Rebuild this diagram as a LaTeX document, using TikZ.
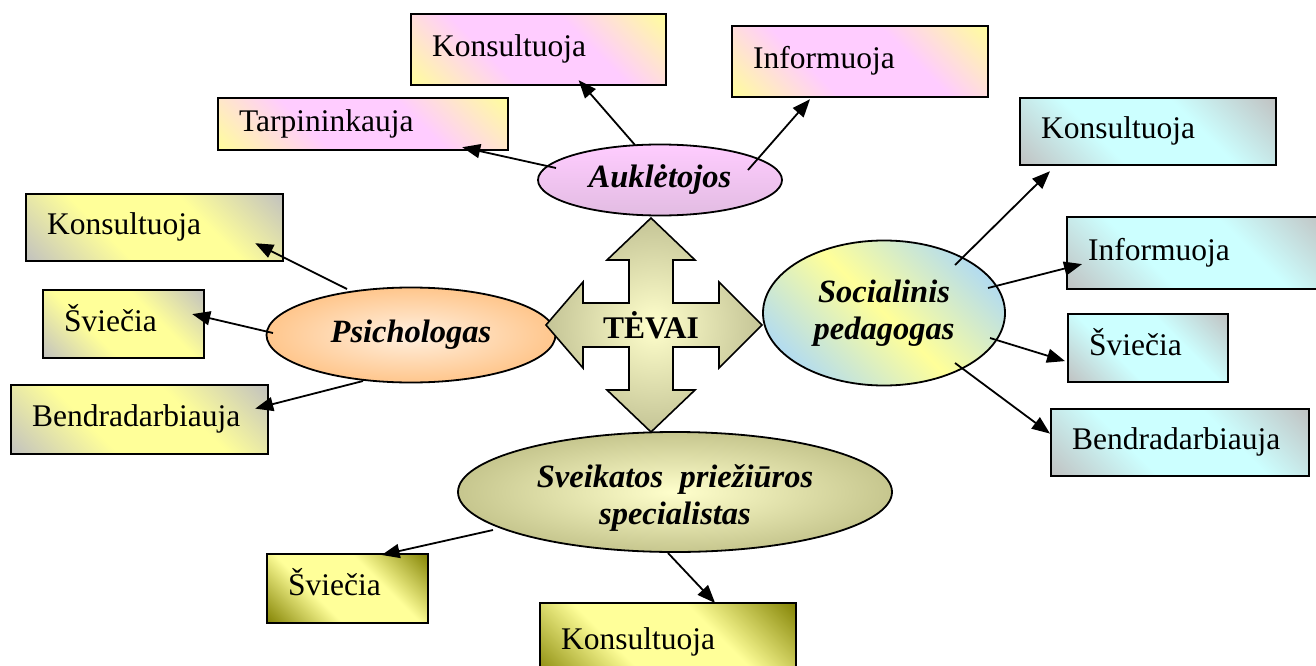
\documentclass[tikz,border=0pt]{standalone}
\usepackage{fontspec}
\setmainfont{Liberation Serif}
\usetikzlibrary{shapes.geometric,arrows.meta}

\definecolor{geltona}{HTML}{FFFF99}
\definecolor{rozine}{HTML}{FFCCFF}
\definecolor{alyvine}{HTML}{E2BCE2}
\definecolor{pilka}{HTML}{C0C0C0}
\definecolor{zydra}{HTML}{CCFFFF}
\definecolor{melsva}{HTML}{B4DCEE}
\definecolor{alyvuoge}{HTML}{808000}
\definecolor{oranzine}{HTML}{FFC68C}
\definecolor{persikine}{HTML}{FFF0E0}
\definecolor{kremine}{HTML}{FFFFCC}
\definecolor{rusva}{HTML}{C6C68E}
\definecolor{smelio}{HTML}{C4C496}
\newcommand{\dydis}{\fontsize{31.5pt}{36pt}\selectfont}
\newcommand{\elipsdydis}{\fontsize{32.5pt}{37pt}\selectfont}

\pgfdeclareverticalshading{auklsesel}{100bp}{color(0bp)=(geltona); color(14bp)=(geltona); color(38bp)=(rozine); color(62bp)=(rozine); color(86bp)=(geltona); color(100bp)=(geltona)}
\pgfdeclareverticalshading{psisesel}{100bp}{color(0bp)=(pilka); color(14bp)=(pilka); color(38bp)=(geltona); color(62bp)=(geltona); color(86bp)=(pilka); color(100bp)=(pilka)}
\pgfdeclareverticalshading{socsesel}{100bp}{color(0bp)=(pilka); color(14bp)=(pilka); color(38bp)=(zydra); color(62bp)=(zydra); color(86bp)=(pilka); color(100bp)=(pilka)}
\pgfdeclareverticalshading{sveisesel}{100bp}{color(0bp)=(alyvuoge); color(14bp)=(alyvuoge); color(38bp)=(geltona); color(62bp)=(geltona); color(86bp)=(alyvuoge); color(100bp)=(alyvuoge)}

\begin{document}
\begin{tikzpicture}[x=1pt,y=-1pt,
    laukas/.style={draw,line width=2.2pt,anchor=north west,inner xsep=21pt,inner ysep=0pt,
        align=left,font=\dydis,text height=22pt,text depth=8pt,shading angle=-45},
    auklaukas/.style={laukas,shading=auklsesel},
    psilaukas/.style={laukas,shading=psisesel},
    soclaukas/.style={laukas,shading=socsesel},
    sveilaukas/.style={laukas,shading=sveisesel},
    elipse/.style={ellipse,draw,line width=1.8pt,inner sep=0pt,align=center,font=\elipsdydis\bfseries\itshape},
    kryzius/.style={draw,line width=1.6pt,inner color=kremine,outer color=smelio},
    rodykle/.style={-{Triangle[length=18pt,width=14pt]},line width=1.8pt}]
    \useasboundingbox (0,0) rectangle (1316,666);

    \node[elipse,top color=rozine,bottom color=alyvine,minimum width=244pt,minimum height=71pt] (auk) at (660,180) {Auklėtojos};
    \node[elipse,inner color=persikine,outer color=oranzine,minimum width=289pt,minimum height=95pt] (psi) at (411,335) {Psichologas};
    \node[elipse,top color=melsva,bottom color=melsva,middle color=geltona,shading angle=-45,minimum width=242pt,minimum height=145pt] (soc) at (884,313) {Socialinis\\pedagogas};
    \node[elipse,inner color=kremine,outer color=rusva,text height=72pt,minimum width=434pt,minimum height=120pt] (svei) at (675,492) {Sveikatos\ \ priežiūros\\specialistas};

    \begin{scope}[shift={(651,325)}]
        \draw[kryzius] (0,-107) -- (44,-65) -- (22,-65) -- (22,-22) -- (68,-22) -- (68,-43) -- (111,0)
            -- (68,43) -- (68,22) -- (22,22) -- (22,65) -- (44,65) -- (0,107) -- (-44,65) -- (-22,65)
            -- (-22,22) -- (-68,22) -- (-68,43) -- (-105,0) -- (-68,-43) -- (-68,-22) -- (-22,-22)
            -- (-22,-65) -- (-44,-65) -- cycle;
    \end{scope}
    \node[font=\dydis\bfseries] (tevai) at (651,325) {TĖVAI};

    \node[auklaukas,text width=213pt,minimum height=71pt] (akons) at (410,13) {Konsultuoja};
    \node[auklaukas,text width=214pt,minimum height=71pt] (ainf) at (731,25) {Informuoja};
    \node[auklaukas,text width=248pt,minimum height=52pt] (atarp) at (217,97) {Tarpininkauja};

    \node[psilaukas,text width=215pt,minimum height=67pt] (pkons) at (25,193) {Konsultuoja};
    \node[psilaukas,text width=119pt,minimum height=68pt] (psv) at (42,289) {Šviečia};
    \node[psilaukas,text width=215pt,minimum height=69pt] (pbend) at (10,384) {Bendradarbiauja};

    \node[soclaukas,text width=214pt,minimum height=67pt] (skons) at (1019,97) {Konsultuoja};
    \node[soclaukas,text width=218pt,minimum height=72pt] (sinf) at (1066,216) {Informuoja};
    \node[soclaukas,text width=118pt,minimum height=68pt] (ssv) at (1067,313) {Šviečia};
    \node[soclaukas,text width=216pt,minimum height=67pt] (sbend) at (1050,408) {Bendradarbiauja};

    \node[sveilaukas,text width=119pt,minimum height=69pt] (vsv) at (266,553) {Šviečia};
    \node[sveilaukas,text width=214pt,minimum height=78pt] (vkons) at (539,602) {Konsultuoja};

    \draw[rodykle] ([shift={(-104pt,12pt)}]auk.center) -- ([shift={(-47pt,4pt)}]atarp.south east);
    \draw[rodykle] ([shift={(-25pt,35pt)}]auk.center) -- ([shift={(40pt,6pt)}]akons.south);
    \draw[rodykle] ([shift={(88pt,10pt)}]auk.center) -- ([shift={(79pt,-1pt)}]ainf.south west);

    \draw[rodykle] ([shift={(-64pt,46pt)}]psi.center) -- ([shift={(-29pt,19pt)}]pkons.south east);
    \draw[rodykle] ([shift={(-138pt,2pt)}]psi.center) -- ([shift={(-13pt,10pt)}]psv.east);
    \draw[rodykle] ([shift={(-48pt,-46pt)}]psi.center) -- ([shift={(-14pt,11pt)}]pbend.east);

    \draw[rodykle] ([shift={(71pt,48pt)}]soc.center) -- ([shift={(31pt,-5pt)}]skons.south west);
    \draw[rodykle] ([shift={(104pt,25pt)}]soc.center) -- ([shift={(16pt,-11pt)}]sinf.west);
    \draw[rodykle] ([shift={(106pt,-25pt)}]soc.center) -- ([shift={(-2pt,-13pt)}]ssv.west);
    \draw[rodykle] ([shift={(71pt,-50pt)}]soc.center) -- ([shift={(0pt,9pt)}]sbend.west);

    \draw[rodykle] ([shift={(-182pt,-38pt)}]svei.center) -- ([shift={(34pt,-2pt)}]vsv.north);
    \draw[rodykle] ([shift={(-7pt,-61pt)}]svei.center) -- ([shift={(47pt,-1pt)}]vkons.north);
\end{tikzpicture}
\end{document}
